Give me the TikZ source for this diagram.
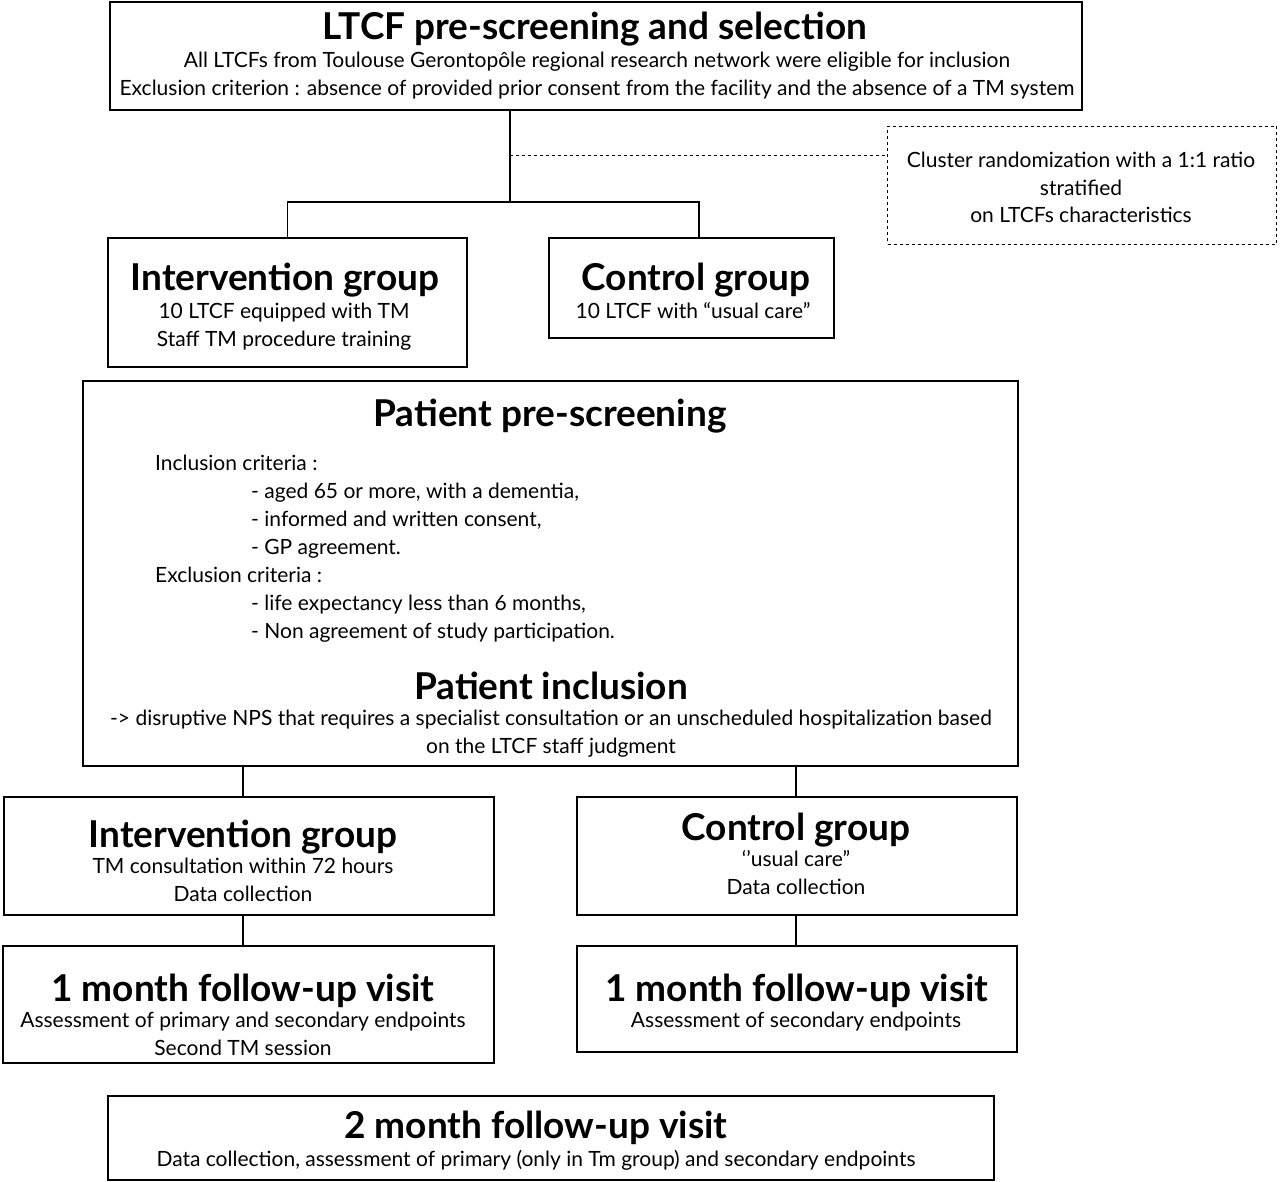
\documentclass[tikz,border=0pt]{standalone}
\usepackage{fontspec}
\setmainfont{Lato}
\usetikzlibrary{calc}
\begin{document}
\begin{tikzpicture}[x=1pt,y=-1pt,
  box/.style={draw, line width=2pt, inner sep=0pt, anchor=center},
  dbox/.style={draw, dashed, line width=1pt, inner sep=0pt, anchor=center},
  conn/.style={line width=1.4pt},
  ttl/.style={font=\fontsize{37}{42}\selectfont\bfseries, anchor=base, inner sep=0pt},
  sub/.style={font=\fontsize{21}{25}\selectfont, anchor=base, inner sep=0pt},
  subl/.style={font=\fontsize{21}{25}\selectfont, anchor=base west, inner sep=0pt}]
\useasboundingbox[fill=white] (0,0) rectangle (1280,1181);
% boxes
\node[box, minimum width=972pt, minimum height=108pt] (top) at (596,56) {};
\node[dbox, minimum width=389pt, minimum height=118pt] (dash) at (1082,185) {};
\node[box, minimum width=359pt, minimum height=129pt] (ig1) at (287.5,302.5) {};
\node[box, minimum width=285pt, minimum height=100pt] (cg1) at (691.5,288) {};
\node[box, minimum width=935pt, minimum height=385pt] (pp) at (550.5,573.5) {};
\node[box, minimum width=490pt, minimum height=118pt] (ig2) at (249,856) {};
\node[box, minimum width=440pt, minimum height=118pt] (cg2) at (797,856) {};
\node[box, minimum width=491pt, minimum height=117pt] (fu1) at (248.5,1004.5) {};
\node[box, minimum width=440pt, minimum height=106pt] (fu2) at (797,999) {};
\node[box, minimum width=886pt, minimum height=84pt] (fu3) at (551,1138) {};
% texts
\node[ttl] (t1) at (595,39) {LTCF pre-screening and selection};
\node[sub] (t1a) at (597,67) {All LTCFs from Toulouse Gerontopôle regional research network were eligible for inclusion};
\node[sub] (t1b) at (597,95) {Exclusion criterion : absence of provided prior consent from the facility and the absence of a TM system};
\node[sub] (d1) at (1081,167) {Cluster randomization with a 1:1 ratio};
\node[sub] (d2) at (1081,195) {stratified};
\node[sub] (d3) at (1081,222) {on LTCFs characteristics};
\node[ttl] (i1) at (285,290) {Intervention group};
\node[sub] (i1a) at (284,318) {10 LTCF equipped with TM};
\node[sub] (i1b) at (284,346) {Staff TM procedure training};
\node[ttl] (c1) at (696,290) {Control group};
\node[sub] (c1a) at (693,318) {10 LTCF with ``usual care''};
\node[ttl] (p1) at (550,426) {Patient pre-screening};
\node[subl] (p2) at (155,470) {Inclusion criteria :};
\node[subl] (p3) at (251,498) {- aged 65 or more, with a dementia,};
\node[subl] (p4) at (251,526) {- informed and written consent,};
\node[subl] (p5) at (251,554) {- GP agreement.};
\node[subl] (p6) at (155,582) {Exclusion criteria :};
\node[subl] (p7) at (251,610) {- life expectancy less than 6 months,};
\node[subl] (p8) at (251,638) {- Non agreement of study participation.};
\node[ttl] (p9) at (551,699) {Patient inclusion};
\node[sub] (p10) at (551,725) {-> disruptive NPS that requires a specialist consultation or an unscheduled hospitalization based};
\node[sub] (p11) at (551,753) {on the LTCF staff judgment};
\node[ttl] (i2) at (243,847) {Intervention group};
\node[sub] (i2a) at (243,873) {TM consultation within 72 hours};
\node[sub] (i2b) at (243,901) {Data collection};
\node[ttl] (c2) at (796,840) {Control group};
\node[sub] (c2a) at (796,866) {`'usual care''};
\node[sub] (c2b) at (796,894) {Data collection};
\node[ttl] (f1) at (243,1001) {1 month follow-up visit};
\node[sub] (f1a) at (243,1027) {Assessment of primary and secondary endpoints};
\node[sub] (f1b) at (243,1055) {Second TM session};
\node[ttl] (f2) at (797,1001) {1 month follow-up visit};
\node[sub] (f2a) at (796,1027) {Assessment of secondary endpoints};
\node[ttl] (f3) at (536,1138) {2 month follow-up visit};
\node[sub] (f3a) at (536,1166) {Data collection, assessment of primary (only in Tm group) and secondary endpoints};
% connectors
\coordinate (split) at (510,202);
\coordinate (cgx) at (699,202);
\coordinate (dj) at (510,155);
\draw[conn] (top.south -| split) -- (split);
\draw[conn] (ig1.north) |- (split) -- (cgx) -- (cgx |- cg1.north);
\draw[conn, dashed, line width=1pt] (dj) -- (dj -| dash.west);
\coordinate (lx) at (243,0);
\coordinate (rx) at (796,0);
\draw[conn] (pp.south -| lx) -- (ig2.north -| lx);
\draw[conn] (pp.south -| rx) -- (cg2.north -| rx);
\draw[conn] (ig2.south -| lx) -- (fu1.north -| lx);
\draw[conn] (cg2.south -| rx) -- (fu2.north -| rx);
\end{tikzpicture}
\end{document}
